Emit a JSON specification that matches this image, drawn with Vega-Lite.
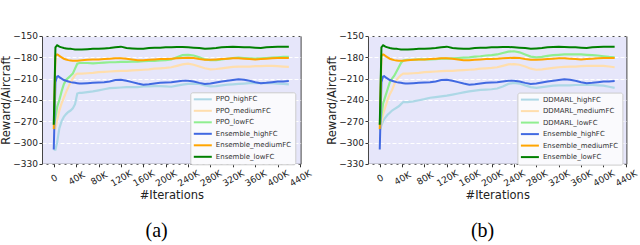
{
  "$schema": "https://vega.github.io/schema/vega-lite/v6.json",
  "padding": {"left": 0, "top": 31, "right": 2, "bottom": 2},
  "background": "white",
  "datasets": {
    "ens": [
      {"x":0,"Ensemble_highFC":-310,"Ensemble_mediumFC":-281,"Ensemble_lowFC":-275},
      {"x":3,"Ensemble_highFC":-215,"Ensemble_mediumFC":-178,"Ensemble_lowFC":-166},
      {"x":6,"Ensemble_highFC":-207,"Ensemble_mediumFC":-176,"Ensemble_lowFC":-163},
      {"x":8,"Ensemble_highFC":-206.5,"Ensemble_mediumFC":-176.5,"Ensemble_lowFC":-164},
      {"x":10,"Ensemble_highFC":-208,"Ensemble_mediumFC":-178,"Ensemble_lowFC":-165},
      {"x":14,"Ensemble_highFC":-210,"Ensemble_mediumFC":-180,"Ensemble_lowFC":-166},
      {"x":18,"Ensemble_highFC":-212,"Ensemble_mediumFC":-182,"Ensemble_lowFC":-167},
      {"x":22,"Ensemble_highFC":-213,"Ensemble_mediumFC":-183,"Ensemble_lowFC":-167.5},
      {"x":26,"Ensemble_highFC":-214,"Ensemble_mediumFC":-184,"Ensemble_lowFC":-168},
      {"x":30,"Ensemble_highFC":-215,"Ensemble_mediumFC":-184.5,"Ensemble_lowFC":-168},
      {"x":34,"Ensemble_highFC":-215.5,"Ensemble_mediumFC":-185,"Ensemble_lowFC":-168.5},
      {"x":38,"Ensemble_highFC":-216,"Ensemble_mediumFC":-185,"Ensemble_lowFC":-169},
      {"x":42,"Ensemble_highFC":-216.5,"Ensemble_mediumFC":-185,"Ensemble_lowFC":-169},
      {"x":46,"Ensemble_highFC":-217,"Ensemble_mediumFC":-184.5,"Ensemble_lowFC":-169},
      {"x":50,"Ensemble_highFC":-217,"Ensemble_mediumFC":-184,"Ensemble_lowFC":-169},
      {"x":60,"Ensemble_highFC":-216.5,"Ensemble_mediumFC":-183.5,"Ensemble_lowFC":-168.5},
      {"x":70,"Ensemble_highFC":-216,"Ensemble_mediumFC":-183,"Ensemble_lowFC":-168},
      {"x":80,"Ensemble_highFC":-215.5,"Ensemble_mediumFC":-183,"Ensemble_lowFC":-168},
      {"x":90,"Ensemble_highFC":-215,"Ensemble_mediumFC":-182.5,"Ensemble_lowFC":-167.5},
      {"x":100,"Ensemble_highFC":-214,"Ensemble_mediumFC":-182,"Ensemble_lowFC":-167},
      {"x":110,"Ensemble_highFC":-212,"Ensemble_mediumFC":-181.5,"Ensemble_lowFC":-166},
      {"x":120,"Ensemble_highFC":-211.5,"Ensemble_mediumFC":-181.5,"Ensemble_lowFC":-165},
      {"x":130,"Ensemble_highFC":-213,"Ensemble_mediumFC":-182,"Ensemble_lowFC":-167},
      {"x":140,"Ensemble_highFC":-215,"Ensemble_mediumFC":-183,"Ensemble_lowFC":-167.5},
      {"x":150,"Ensemble_highFC":-217,"Ensemble_mediumFC":-184,"Ensemble_lowFC":-168},
      {"x":160,"Ensemble_highFC":-218.5,"Ensemble_mediumFC":-184,"Ensemble_lowFC":-168},
      {"x":170,"Ensemble_highFC":-218,"Ensemble_mediumFC":-183.5,"Ensemble_lowFC":-167},
      {"x":180,"Ensemble_highFC":-217,"Ensemble_mediumFC":-183,"Ensemble_lowFC":-166.5},
      {"x":190,"Ensemble_highFC":-216,"Ensemble_mediumFC":-182.5,"Ensemble_lowFC":-166.5},
      {"x":200,"Ensemble_highFC":-215.5,"Ensemble_mediumFC":-182.5,"Ensemble_lowFC":-166},
      {"x":210,"Ensemble_highFC":-215,"Ensemble_mediumFC":-182,"Ensemble_lowFC":-166},
      {"x":220,"Ensemble_highFC":-214,"Ensemble_mediumFC":-181.5,"Ensemble_lowFC":-165.5},
      {"x":230,"Ensemble_highFC":-213,"Ensemble_mediumFC":-181,"Ensemble_lowFC":-165.5},
      {"x":240,"Ensemble_highFC":-213,"Ensemble_mediumFC":-180.5,"Ensemble_lowFC":-166},
      {"x":250,"Ensemble_highFC":-214,"Ensemble_mediumFC":-181,"Ensemble_lowFC":-166.5},
      {"x":260,"Ensemble_highFC":-216,"Ensemble_mediumFC":-182.5,"Ensemble_lowFC":-167},
      {"x":270,"Ensemble_highFC":-217.5,"Ensemble_mediumFC":-183.5,"Ensemble_lowFC":-168},
      {"x":280,"Ensemble_highFC":-217,"Ensemble_mediumFC":-183.5,"Ensemble_lowFC":-167.5},
      {"x":290,"Ensemble_highFC":-215.5,"Ensemble_mediumFC":-183,"Ensemble_lowFC":-167},
      {"x":300,"Ensemble_highFC":-214,"Ensemble_mediumFC":-182.5,"Ensemble_lowFC":-166},
      {"x":310,"Ensemble_highFC":-213,"Ensemble_mediumFC":-182,"Ensemble_lowFC":-165.5},
      {"x":320,"Ensemble_highFC":-212,"Ensemble_mediumFC":-181.5,"Ensemble_lowFC":-165},
      {"x":330,"Ensemble_highFC":-211,"Ensemble_mediumFC":-181.5,"Ensemble_lowFC":-165.5},
      {"x":340,"Ensemble_highFC":-211.5,"Ensemble_mediumFC":-182,"Ensemble_lowFC":-166},
      {"x":350,"Ensemble_highFC":-213,"Ensemble_mediumFC":-182.5,"Ensemble_lowFC":-166},
      {"x":360,"Ensemble_highFC":-215,"Ensemble_mediumFC":-183,"Ensemble_lowFC":-166.5},
      {"x":370,"Ensemble_highFC":-216.5,"Ensemble_mediumFC":-182.5,"Ensemble_lowFC":-167},
      {"x":380,"Ensemble_highFC":-216,"Ensemble_mediumFC":-182,"Ensemble_lowFC":-166},
      {"x":390,"Ensemble_highFC":-215,"Ensemble_mediumFC":-181.5,"Ensemble_lowFC":-165.5},
      {"x":400,"Ensemble_highFC":-214,"Ensemble_mediumFC":-181,"Ensemble_lowFC":-165},
      {"x":410,"Ensemble_highFC":-214,"Ensemble_mediumFC":-181,"Ensemble_lowFC":-165},
      {"x":420,"Ensemble_highFC":-213.5,"Ensemble_mediumFC":-181,"Ensemble_lowFC":-165}
    ],
    "ppo": [
      {"x":0,"PPO_highFC":-310,"PPO_mediumFC":-282,"PPO_lowFC":-275},
      {"x":3,"PPO_highFC":-310,"PPO_mediumFC":-280,"PPO_lowFC":-265},
      {"x":6,"PPO_highFC":-300,"PPO_mediumFC":-268,"PPO_lowFC":-250},
      {"x":8,"PPO_highFC":-290,"PPO_mediumFC":-262,"PPO_lowFC":-245},
      {"x":10,"PPO_highFC":-280,"PPO_mediumFC":-255,"PPO_lowFC":-240},
      {"x":14,"PPO_highFC":-270,"PPO_mediumFC":-245,"PPO_lowFC":-228},
      {"x":18,"PPO_highFC":-264,"PPO_mediumFC":-237,"PPO_lowFC":-218},
      {"x":22,"PPO_highFC":-260,"PPO_mediumFC":-229,"PPO_lowFC":-212},
      {"x":26,"PPO_highFC":-257,"PPO_mediumFC":-222,"PPO_lowFC":-209},
      {"x":30,"PPO_highFC":-255,"PPO_mediumFC":-215,"PPO_lowFC":-206},
      {"x":34,"PPO_highFC":-252,"PPO_mediumFC":-210,"PPO_lowFC":-203},
      {"x":38,"PPO_highFC":-246,"PPO_mediumFC":-205,"PPO_lowFC":-196},
      {"x":42,"PPO_highFC":-231,"PPO_mediumFC":-203,"PPO_lowFC":-189},
      {"x":46,"PPO_highFC":-230,"PPO_mediumFC":-203,"PPO_lowFC":-188},
      {"x":50,"PPO_highFC":-230,"PPO_mediumFC":-203,"PPO_lowFC":-188},
      {"x":60,"PPO_highFC":-229,"PPO_mediumFC":-202.5,"PPO_lowFC":-188},
      {"x":70,"PPO_highFC":-228,"PPO_mediumFC":-202,"PPO_lowFC":-188.5},
      {"x":80,"PPO_highFC":-226.5,"PPO_mediumFC":-201,"PPO_lowFC":-188},
      {"x":90,"PPO_highFC":-225,"PPO_mediumFC":-200.5,"PPO_lowFC":-187.5},
      {"x":100,"PPO_highFC":-223.5,"PPO_mediumFC":-200,"PPO_lowFC":-187},
      {"x":110,"PPO_highFC":-223,"PPO_mediumFC":-199.5,"PPO_lowFC":-187},
      {"x":120,"PPO_highFC":-222.5,"PPO_mediumFC":-199,"PPO_lowFC":-186.5},
      {"x":130,"PPO_highFC":-222,"PPO_mediumFC":-199,"PPO_lowFC":-186.5},
      {"x":140,"PPO_highFC":-222,"PPO_mediumFC":-198.5,"PPO_lowFC":-186},
      {"x":150,"PPO_highFC":-222,"PPO_mediumFC":-198,"PPO_lowFC":-186},
      {"x":160,"PPO_highFC":-221,"PPO_mediumFC":-197.5,"PPO_lowFC":-185.5},
      {"x":170,"PPO_highFC":-221,"PPO_mediumFC":-197,"PPO_lowFC":-185},
      {"x":180,"PPO_highFC":-220.5,"PPO_mediumFC":-196,"PPO_lowFC":-185},
      {"x":190,"PPO_highFC":-220.5,"PPO_mediumFC":-195.5,"PPO_lowFC":-184.5},
      {"x":200,"PPO_highFC":-221,"PPO_mediumFC":-195,"PPO_lowFC":-184},
      {"x":210,"PPO_highFC":-221.5,"PPO_mediumFC":-194,"PPO_lowFC":-183},
      {"x":220,"PPO_highFC":-220,"PPO_mediumFC":-192,"PPO_lowFC":-180},
      {"x":230,"PPO_highFC":-218.5,"PPO_mediumFC":-190,"PPO_lowFC":-177},
      {"x":240,"PPO_highFC":-217.5,"PPO_mediumFC":-189,"PPO_lowFC":-176.5},
      {"x":250,"PPO_highFC":-217,"PPO_mediumFC":-190.5,"PPO_lowFC":-177.5},
      {"x":260,"PPO_highFC":-217.5,"PPO_mediumFC":-193,"PPO_lowFC":-180},
      {"x":270,"PPO_highFC":-219.5,"PPO_mediumFC":-195.5,"PPO_lowFC":-183},
      {"x":280,"PPO_highFC":-221,"PPO_mediumFC":-197,"PPO_lowFC":-184},
      {"x":290,"PPO_highFC":-220.5,"PPO_mediumFC":-196.5,"PPO_lowFC":-184},
      {"x":300,"PPO_highFC":-219.5,"PPO_mediumFC":-195.5,"PPO_lowFC":-183},
      {"x":310,"PPO_highFC":-218.5,"PPO_mediumFC":-194.5,"PPO_lowFC":-182},
      {"x":320,"PPO_highFC":-218,"PPO_mediumFC":-193.5,"PPO_lowFC":-181},
      {"x":330,"PPO_highFC":-217.5,"PPO_mediumFC":-193,"PPO_lowFC":-180.5},
      {"x":340,"PPO_highFC":-217,"PPO_mediumFC":-193,"PPO_lowFC":-181},
      {"x":350,"PPO_highFC":-216.5,"PPO_mediumFC":-193,"PPO_lowFC":-181.5},
      {"x":360,"PPO_highFC":-216.5,"PPO_mediumFC":-192.5,"PPO_lowFC":-182},
      {"x":370,"PPO_highFC":-216.5,"PPO_mediumFC":-192.5,"PPO_lowFC":-181.5},
      {"x":380,"PPO_highFC":-216,"PPO_mediumFC":-192,"PPO_lowFC":-181},
      {"x":390,"PPO_highFC":-216.5,"PPO_mediumFC":-192,"PPO_lowFC":-180.5},
      {"x":400,"PPO_highFC":-217,"PPO_mediumFC":-192.5,"PPO_lowFC":-180},
      {"x":410,"PPO_highFC":-217.5,"PPO_mediumFC":-193,"PPO_lowFC":-179.5},
      {"x":420,"PPO_highFC":-218,"PPO_mediumFC":-193.5,"PPO_lowFC":-179.5}
    ],
    "dd": [
      {"x":0,"DDMARL_highFC":-283,"DDMARL_mediumFC":-282,"DDMARL_lowFC":-275},
      {"x":3,"DDMARL_highFC":-276,"DDMARL_mediumFC":-272,"DDMARL_lowFC":-262},
      {"x":6,"DDMARL_highFC":-270,"DDMARL_mediumFC":-260,"DDMARL_lowFC":-245},
      {"x":8,"DDMARL_highFC":-267,"DDMARL_mediumFC":-255,"DDMARL_lowFC":-240},
      {"x":10,"DDMARL_highFC":-265,"DDMARL_mediumFC":-250,"DDMARL_lowFC":-235},
      {"x":14,"DDMARL_highFC":-261,"DDMARL_mediumFC":-240,"DDMARL_lowFC":-225},
      {"x":18,"DDMARL_highFC":-258,"DDMARL_mediumFC":-232,"DDMARL_lowFC":-215},
      {"x":22,"DDMARL_highFC":-255,"DDMARL_mediumFC":-226,"DDMARL_lowFC":-210},
      {"x":26,"DDMARL_highFC":-253,"DDMARL_mediumFC":-218,"DDMARL_lowFC":-206},
      {"x":30,"DDMARL_highFC":-251,"DDMARL_mediumFC":-212,"DDMARL_lowFC":-200},
      {"x":34,"DDMARL_highFC":-249,"DDMARL_mediumFC":-208,"DDMARL_lowFC":-194},
      {"x":38,"DDMARL_highFC":-246,"DDMARL_mediumFC":-205,"DDMARL_lowFC":-188},
      {"x":42,"DDMARL_highFC":-243,"DDMARL_mediumFC":-203,"DDMARL_lowFC":-184.5},
      {"x":46,"DDMARL_highFC":-243,"DDMARL_mediumFC":-203,"DDMARL_lowFC":-184},
      {"x":50,"DDMARL_highFC":-243,"DDMARL_mediumFC":-203,"DDMARL_lowFC":-183.5},
      {"x":60,"DDMARL_highFC":-242,"DDMARL_mediumFC":-202.5,"DDMARL_lowFC":-183.5},
      {"x":70,"DDMARL_highFC":-240.5,"DDMARL_mediumFC":-202,"DDMARL_lowFC":-183},
      {"x":80,"DDMARL_highFC":-239,"DDMARL_mediumFC":-201,"DDMARL_lowFC":-183},
      {"x":90,"DDMARL_highFC":-237,"DDMARL_mediumFC":-200.5,"DDMARL_lowFC":-183},
      {"x":100,"DDMARL_highFC":-236,"DDMARL_mediumFC":-200,"DDMARL_lowFC":-182.5},
      {"x":110,"DDMARL_highFC":-235,"DDMARL_mediumFC":-199.5,"DDMARL_lowFC":-182},
      {"x":120,"DDMARL_highFC":-234,"DDMARL_mediumFC":-199,"DDMARL_lowFC":-182},
      {"x":130,"DDMARL_highFC":-232.5,"DDMARL_mediumFC":-199,"DDMARL_lowFC":-181.5},
      {"x":140,"DDMARL_highFC":-231,"DDMARL_mediumFC":-198.5,"DDMARL_lowFC":-181},
      {"x":150,"DDMARL_highFC":-229.5,"DDMARL_mediumFC":-198,"DDMARL_lowFC":-180.5},
      {"x":160,"DDMARL_highFC":-228,"DDMARL_mediumFC":-197.5,"DDMARL_lowFC":-180},
      {"x":170,"DDMARL_highFC":-227,"DDMARL_mediumFC":-197,"DDMARL_lowFC":-179},
      {"x":180,"DDMARL_highFC":-226,"DDMARL_mediumFC":-196,"DDMARL_lowFC":-178.5},
      {"x":190,"DDMARL_highFC":-225.5,"DDMARL_mediumFC":-195.5,"DDMARL_lowFC":-177.5},
      {"x":200,"DDMARL_highFC":-225,"DDMARL_mediumFC":-195,"DDMARL_lowFC":-177},
      {"x":210,"DDMARL_highFC":-224,"DDMARL_mediumFC":-194,"DDMARL_lowFC":-176},
      {"x":220,"DDMARL_highFC":-221,"DDMARL_mediumFC":-192,"DDMARL_lowFC":-174},
      {"x":230,"DDMARL_highFC":-217.5,"DDMARL_mediumFC":-190,"DDMARL_lowFC":-172},
      {"x":240,"DDMARL_highFC":-216,"DDMARL_mediumFC":-189.5,"DDMARL_lowFC":-171.5},
      {"x":250,"DDMARL_highFC":-217,"DDMARL_mediumFC":-190.5,"DDMARL_lowFC":-173},
      {"x":260,"DDMARL_highFC":-219.5,"DDMARL_mediumFC":-193,"DDMARL_lowFC":-176},
      {"x":270,"DDMARL_highFC":-222,"DDMARL_mediumFC":-196,"DDMARL_lowFC":-179},
      {"x":280,"DDMARL_highFC":-223,"DDMARL_mediumFC":-197.5,"DDMARL_lowFC":-180},
      {"x":290,"DDMARL_highFC":-222,"DDMARL_mediumFC":-197,"DDMARL_lowFC":-179.5},
      {"x":300,"DDMARL_highFC":-221,"DDMARL_mediumFC":-196,"DDMARL_lowFC":-178},
      {"x":310,"DDMARL_highFC":-220,"DDMARL_mediumFC":-195,"DDMARL_lowFC":-177},
      {"x":320,"DDMARL_highFC":-219.5,"DDMARL_mediumFC":-194,"DDMARL_lowFC":-176.5},
      {"x":330,"DDMARL_highFC":-219.5,"DDMARL_mediumFC":-193.5,"DDMARL_lowFC":-176},
      {"x":340,"DDMARL_highFC":-219.5,"DDMARL_mediumFC":-193,"DDMARL_lowFC":-176},
      {"x":350,"DDMARL_highFC":-219,"DDMARL_mediumFC":-193,"DDMARL_lowFC":-176},
      {"x":360,"DDMARL_highFC":-219,"DDMARL_mediumFC":-192.5,"DDMARL_lowFC":-176},
      {"x":370,"DDMARL_highFC":-219,"DDMARL_mediumFC":-192,"DDMARL_lowFC":-176.5},
      {"x":380,"DDMARL_highFC":-219,"DDMARL_mediumFC":-192,"DDMARL_lowFC":-177},
      {"x":390,"DDMARL_highFC":-219.5,"DDMARL_mediumFC":-192,"DDMARL_lowFC":-177.5},
      {"x":400,"DDMARL_highFC":-220,"DDMARL_mediumFC":-192,"DDMARL_lowFC":-178.5},
      {"x":410,"DDMARL_highFC":-221.5,"DDMARL_mediumFC":-193,"DDMARL_lowFC":-179.5},
      {"x":420,"DDMARL_highFC":-223,"DDMARL_mediumFC":-194,"DDMARL_lowFC":-180}
    ]
  },
  "config": {
    "view": {"fill": "#e6e6fa", "stroke": "#444444", "strokeWidth": 1},
    "axis": {
      "labelFont": "DejaVu Sans", "titleFont": "DejaVu Sans",
      "labelColor": "#222222", "titleColor": "#222222",
      "labelFontSize": 9, "titleFontSize": 11.5, "titleFontWeight": "normal",
      "domain": false, "tickColor": "#333333", "tickSize": 3, "tickWidth": 1,
      "labelOverlap": false, "labelFlush": false, "labelBound": false
    },
    "legend": {
      "orient": "none", "title": null,
      "symbolType": "M-1.4,0H5.8", "symbolSize": 25, "symbolStrokeWidth": 2,
      "labelFont": "DejaVu Sans", "labelFontSize": 7, "labelColor": "#333333",
      "padding": 3.5, "rowPadding": 2.5, "labelOffset": 15,
      "fillColor": "#fafafd", "strokeColor": "#cccccc", "cornerRadius": 2
    },
    "title": {"font": "Liberation Serif", "fontSize": 20, "fontWeight": "normal", "color": "#000000"}
  },
  "hconcat": [
    {
      "width": 258.6, "height": 127.8,
      "title": {"text": "(a)", "orient": "bottom", "anchor": "middle", "frame": "bounds", "offset": 20},
      "encoding": {
        "x": {"field": "x", "type": "quantitative", "scale": {"domain": [-21, 441], "nice": false, "zero": false},
          "axis": {"title": "#Iterations", "values": [0,40,80,120,160,200,240,280,320,360,400,440],
            "labelExpr": "datum.value == 0 ? '0' : datum.value + 'K'", "labelAngle": -30, "labelAlign": "center",
            "labelBaseline": "middle", "labelPadding": 11, "labelOverlap": false, "grid": false, "titlePadding": 2}},
        "y": {"field": "reward", "type": "quantitative", "scale": {"domain": [-330, -150], "nice": false, "zero": false},
          "axis": {"title": "Reward/Aircraft", "values": [-330,-300,-270,-240,-210,-180,-150],
            "labelExpr": "'−' + abs(datum.value)", "labelPadding": 1.5, "titlePadding": 1, "labelOverlap": false,
            "grid": true, "gridColor": "#ffffff", "gridDash": [4, 2], "gridWidth": 1}},
        "color": {"field": "series", "type": "nominal",
          "scale": {"domain": ["PPO_highFC","PPO_mediumFC","PPO_lowFC","Ensemble_highFC","Ensemble_mediumFC","Ensemble_lowFC"],
            "range": ["#add8e6","#ffdead","#90ee90","#4169e1","#ffa500","#008000"]},
          "legend": {"legendX": 148.3, "legendY": 56.3}}
      },
      "layer": [
        {
          "data": {"name": "ppo"},
          "transform": [{"fold": ["PPO_highFC", "PPO_mediumFC", "PPO_lowFC"], "as": ["series", "reward"]}],
          "mark": {"type": "line", "strokeWidth": 2.2}
        },
        {
          "data": {"name": "ens"},
          "transform": [{"fold": ["Ensemble_highFC", "Ensemble_mediumFC", "Ensemble_lowFC"], "as": ["series", "reward"]}],
          "mark": {"type": "line", "strokeWidth": 2}
        }
      ]
    },
    {
      "width": 258.4, "height": 127.8,
      "title": {"text": "(b)", "orient": "bottom", "anchor": "middle", "frame": "bounds", "offset": 20},
      "encoding": {
        "x": {"field": "x", "type": "quantitative", "scale": {"domain": [-21, 441], "nice": false, "zero": false},
          "axis": {"title": "#Iterations", "values": [0,40,80,120,160,200,240,280,320,360,400,440],
            "labelExpr": "datum.value == 0 ? '0' : datum.value + 'K'", "labelAngle": -30, "labelAlign": "center",
            "labelBaseline": "middle", "labelPadding": 11, "labelOverlap": false, "grid": false, "titlePadding": 2}},
        "y": {"field": "reward", "type": "quantitative", "scale": {"domain": [-330, -150], "nice": false, "zero": false},
          "axis": {"title": "Reward/Aircraft", "values": [-330,-300,-270,-240,-210,-180,-150],
            "labelExpr": "'−' + abs(datum.value)", "labelPadding": 1.5, "titlePadding": 1, "labelOverlap": false,
            "grid": true, "gridColor": "#ffffff", "gridDash": [4, 2], "gridWidth": 1}},
        "color": {"field": "series", "type": "nominal",
          "scale": {"domain": ["DDMARL_highFC","DDMARL_mediumFC","DDMARL_lowFC","Ensemble_highFC","Ensemble_mediumFC","Ensemble_lowFC"],
            "range": ["#add8e6","#ffdead","#90ee90","#4169e1","#ffa500","#008000"]},
          "legend": {"legendX": 149.4, "legendY": 56.6}}
      },
      "layer": [
        {
          "data": {"name": "dd"},
          "transform": [{"fold": ["DDMARL_highFC", "DDMARL_mediumFC", "DDMARL_lowFC"], "as": ["series", "reward"]}],
          "mark": {"type": "line", "strokeWidth": 2.2}
        },
        {
          "data": {"name": "ens"},
          "transform": [{"fold": ["Ensemble_highFC", "Ensemble_mediumFC", "Ensemble_lowFC"], "as": ["series", "reward"]}],
          "mark": {"type": "line", "strokeWidth": 2}
        }
      ]
    }
  ],
  "spacing": 67,
  "bounds": "flush",
  "resolve": {"scale": {"color": "independent", "x": "independent", "y": "independent"}, "legend": {"color": "independent"}}
}
